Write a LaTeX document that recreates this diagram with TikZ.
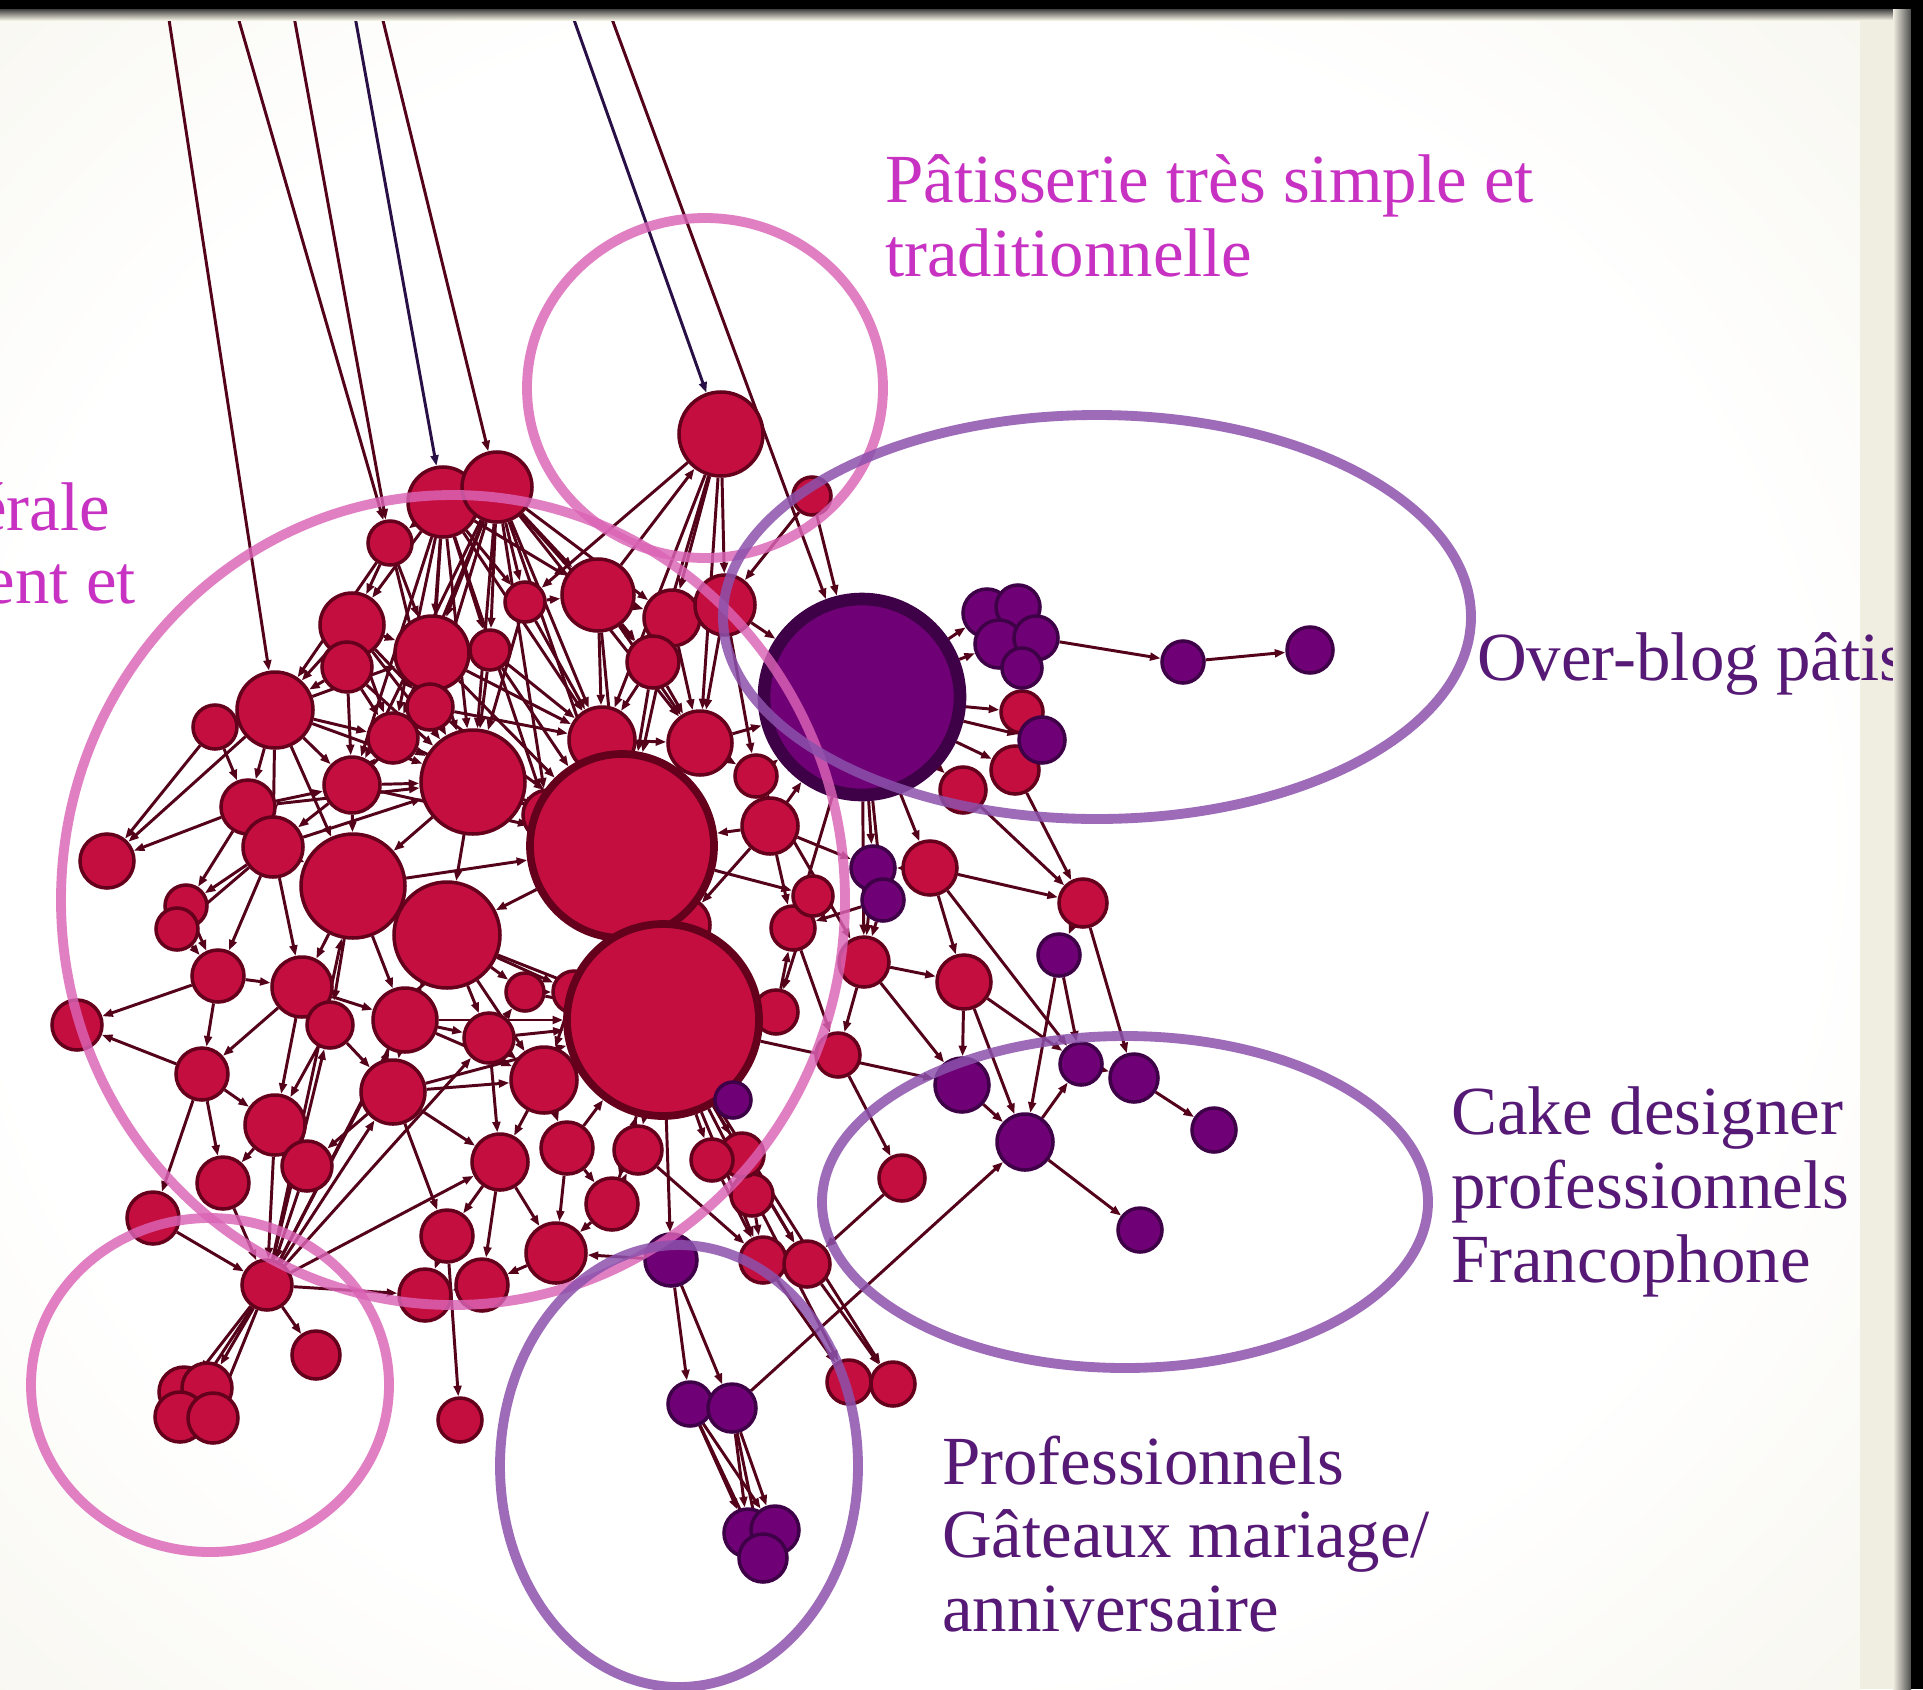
\documentclass[tikz,border=0pt]{standalone}
\usepackage{fontspec}
\setmainfont{Liberation Serif}
\usetikzlibrary{arrows.meta,backgrounds}
\definecolor{cream}{RGB}{240,238,224}
\definecolor{rfill}{RGB}{196,14,64}
\definecolor{rline}{RGB}{100,0,28}
\definecolor{pfill}{RGB}{112,0,118}
\definecolor{pline}{RGB}{62,0,70}
\definecolor{edgec}{RGB}{84,2,26}
\definecolor{navy}{RGB}{40,15,70}
\definecolor{pinkringc}{RGB}{219,100,182}
\definecolor{purpringc}{RGB}{140,82,172}
\definecolor{pinktext}{RGB}{200,50,195}
\definecolor{purptext}{RGB}{86,26,118}
\pgfdeclareradialshading{bgshade}{\pgfpoint{0bp}{0bp}}{color(0bp)=(white); color(24bp)=(white); color(46bp)=(cream); color(100bp)=(cream)}
\tikzset{
  rnode/.style={circle, draw=rline, fill=rfill, line width=5pt, inner sep=0pt},
  pnode/.style={circle, draw=pline, fill=pfill, line width=5pt, inner sep=0pt},
  bignode/.style={circle, draw=rline, fill=rfill, line width=11pt, inner sep=0pt},
  bigpnode/.style={circle, draw=pline, fill=pfill, line width=18pt, inner sep=0pt},
  edge/.style={draw=edgec, line width=4.2pt, -{Triangle[length=15pt,width=11pt]}},
  nedge/.style={edge, draw=navy},
  pinkring/.style={draw=pinkringc, line width=14pt, opacity=0.82},
  purpring/.style={draw=purpringc, line width=14pt, opacity=0.85},
  lab/.style={anchor=base west, inner sep=0pt, font=\fontsize{98}{105}\selectfont},
}
\newcommand{\RN}[4]{\node[rnode, minimum size=#4*0.1cm] (#1) at (#2,#3) {};}
\newcommand{\PN}[4]{\node[pnode, minimum size=#4*0.1cm] (#1) at (#2,#3) {};}
\begin{document}
\begin{tikzpicture}[x=0.05cm, y=-0.05cm]
\useasboundingbox (0,0) rectangle (1923,1689);
\clip (0,0) rectangle (1923,1689);
% ---------- nodes ----------
\RN{n1}{721}{434}{42}
\RN{n2}{812}{496}{19}
\RN{n3}{443}{502}{35}
\RN{n4}{497}{487}{35}
\RN{n5}{390}{543}{22}
\RN{n6}{352}{625}{32}
\RN{n7}{347}{667}{25}
\RN{n8}{432}{653}{37}
\RN{n9}{490}{650}{20}
\RN{n10}{525}{602}{20}
\RN{n11}{598}{595}{36}
\RN{n12}{672}{618}{28}
\RN{n13}{653}{662}{26}
\RN{n14}{725}{605}{30}
\RN{n16}{275}{710}{38}
\RN{n17}{215}{727}{22}
\RN{n18}{248}{807}{27}
\RN{n19}{352}{785}{28}
\RN{n20}{393}{738}{25}
\RN{n21}{430}{707}{23}
\RN{n22}{473}{782}{52}
\RN{n23}{548}{815}{25}
\RN{n24}{602}{740}{33}
\RN{n25}{700}{743}{32}
\RN{n26}{756}{776}{21}
\RN{n27}{770}{826}{28}
\RN{n28}{273}{847}{30}
\RN{n29}{353}{886}{52}
\RN{n30}{447}{935}{53}
\RN{n31}{107}{861}{27}
\RN{n32}{186}{906}{21}
\RN{n33}{177}{929}{21}
\RN{n34}{218}{976}{26}
\RN{n35}{302}{987}{30}
\RN{n36}{330}{1025}{23}
\RN{n37}{405}{1020}{32}
\RN{n38}{202}{1074}{26}
\RN{n39}{393}{1092}{32}
\RN{n40}{275}{1125}{30}
\RN{n41}{307}{1166}{25}
\RN{n42}{223}{1183}{26}
\RN{n43}{153}{1218}{26}
\RN{n44}{489}{1038}{25}
\RN{n45}{525}{992}{19}
\RN{n46}{574}{992}{21}
\RN{n47}{544}{1080}{33}
\RN{n48}{500}{1162}{28}
\RN{n49}{567}{1148}{26}
\RN{n50}{612}{1204}{26}
\RN{n51}{556}{1253}{30}
\RN{n52}{447}{1236}{26}
\RN{n53}{425}{1295}{26}
\RN{n54}{482}{1285}{26}
\RN{n55}{267}{1285}{25}
\RN{n56}{77}{1025}{25}
\RN{n60}{1022}{712}{21}
\RN{n61}{1015}{770}{24}
\RN{n62}{963}{790}{23}
\RN{n63}{930}{868}{27}
\RN{n64}{1083}{903}{24}
\RN{n65}{864}{962}{25}
\RN{n66}{793}{928}{22}
\RN{n67}{964}{982}{27}
\RN{n68}{838}{1055}{22}
\RN{n69}{902}{1178}{23}
\RN{n70}{763}{1260}{23}
\RN{n71}{807}{1264}{23}
\RN{n72}{849}{1382}{22}
\RN{n73}{893}{1384}{22}
\RN{n74}{752}{1195}{21}
\RN{n75}{742}{1155}{22}
\RN{n76}{316}{1355}{24}
\RN{n77}{184}{1392}{25}
\RN{n78}{207}{1388}{25}
\RN{n79}{180}{1417}{25}
\RN{n80}{213}{1418}{25}
\RN{n81}{460}{1420}{22}
\RN{n82}{776}{1012}{22}
\RN{n83}{813}{896}{20}
\RN{n84}{682}{925}{28}
\RN{n85}{638}{1150}{24}
\RN{n86}{712}{1160}{21}
\node[bignode, minimum size=92*0.1cm] (b1) at (622,846) {};
\node[bignode, minimum size=96*0.1cm] (b2) at (663,1020) {};
\node[bigpnode, minimum size=98*0.1cm] (P0) at (862,697) {};
\PN{q1}{987}{613}{24}
\PN{q2}{1018}{607}{22}
\PN{q3}{999}{644}{24}
\PN{q4}{1036}{638}{22}
\PN{q5}{1022}{668}{20}
\PN{q6}{1183}{662}{21}
\PN{q7}{1310}{650}{23}
\PN{q8}{1042}{740}{23}
\PN{q9}{873}{868}{22}
\PN{q10}{883}{900}{21}
\PN{q11}{1059}{955}{21}
\PN{q12}{962}{1085}{27}
\PN{q13}{1025}{1142}{28}
\PN{q14}{1081}{1064}{21}
\PN{q15}{1134}{1078}{24}
\PN{q16}{1214}{1130}{22}
\PN{q17}{1140}{1230}{22}
\PN{q18}{671}{1260}{26}
\PN{q19}{690}{1404}{22}
\PN{q20}{732}{1408}{24}
\PN{q21}{748}{1533}{24}
\PN{q22}{775}{1530}{24}
\PN{q23}{763}{1558}{24}
\PN{q24}{733}{1100}{18}
\coordinate (t1) at (166,0);
\coordinate (t2) at (233,0);
\coordinate (t3) at (291,0);
\coordinate (t4) at (352,0);
\coordinate (t5) at (378,0);
\coordinate (t6) at (567,0);
\coordinate (t7) at (605,0);
% ---------- background and edges ----------
\begin{scope}[on background layer]
\fill[cream] (0,0) rectangle (1923,1689);
\shade[shading=bgshade] (-60,-40) rectangle (1860,1720);
\foreach \a/\b in {t1/n16,t2/n5,t3/n5,t5/n4,t7/P0,
 n11/n1,n1/n12,n1/n14,n1/n13,n1/n24,n1/n25,n1/n10,n2/P0,n2/n14,
 n3/n5,n3/n6,n3/n8,n3/n9,n3/n10,n3/n11,n3/n21,n3/n22,
 n3/n24,n3/n19,n3/n20,n3/n23,n3/n4,
 n4/n8,n4/n9,n4/n10,n4/n11,n4/n12,n4/n13,n4/n24,n4/n22,n4/b1,n4/n20,
 n4/n21,n4/n25,n4/n23,n4/n19,
 n5/n6,n5/n8,n5/n16,n5/n21,
 n6/n16,n6/n8,n6/n7,n6/n20,n6/n21,n6/n22,
 n7/n16,n7/n19,n7/n20,n7/n22,
 n8/n22,n8/n21,n8/n20,n8/n9,n8/b1,n8/n24,
 n9/n22,n9/n24,n9/b1,
 n10/n11,n10/n24,n10/n22,
 n11/n24,n11/b1,n11/n12,n11/n13,n11/n25,
 n12/n14,n12/n25,n12/b1,
 n13/n25,n13/b1,n13/n24,
 n14/n25,n14/P0,n14/n26,
 n16/n17,n16/n18,n16/n19,n16/n20,n16/n28,n16/n29,n16/n31,n16/n8,n16/n22,
 n17/n31,n17/n18,
 n18/n28,n18/n19,n18/n32,n18/n31,n18/n22,
 n19/n22,n19/n29,n19/n28,n19/n20,n19/n21,n19/b1,
 n20/n22,n20/n21,n20/b1,n21/n22,n21/n24,n21/b1,
 n22/b1,n22/n23,n22/n30,n22/n29,
 n23/b1,n23/n24,n23/b2,n24/b1,n24/n25,
 n25/n26,n25/b1,n25/P0,n26/n27,n26/P0,
 n27/b1,n27/P0,n27/q9,n27/n66,
 b1/b2,b1/n30,b1/n84,b1/n83,
 n28/n29,n28/n32,n28/n33,n28/n34,n28/n35,n28/n22,
 n29/n30,n29/n35,n29/n37,n29/n36,n29/b1,
 n30/n37,n30/n44,n30/n45,n30/b2,n30/n47,n30/n46,
 n32/n34,n33/n34,n34/n56,n38/n56,
 n34/n35,n34/n38,
 n35/n36,n35/n37,n35/n40,n35/n38,
 n36/n39,n36/n40,
 n37/n39,n37/n44,n37/n47,n37/b2,
 n38/n40,n38/n42,n38/n43,
 n39/n47,n39/n48,n39/n41,n39/n52,n39/b2,
 n40/n41,n40/n42,n40/n55,
 n41/n55,n42/n55,n43/n55,
 n44/n47,n44/n48,n44/n45,n44/b2,
 n45/n46,n45/b2,n46/b2,n46/n47,
 n47/b2,n47/n49,n47/n48,
 n48/n52,n48/n54,n48/n51,
 n49/n50,n49/n51,n49/b2,
 n50/b2,n50/n51,n50/n85,
 n51/n54,n52/n53,n52/n81,n54/n53,
 n55/n77,n55/n78,n55/n79,n55/n80,n55/n76,n55/n53,
 n55/n36,n55/n29,n55/n37,n55/n39,n55/n30,n55/n44,n55/n48,
 b2/n84,b2/n82,b2/n85,b2/q24,b2/n86,b2/n75,b2/q18,b2/n50,b2/q12,
 q18/q19,q18/q20,q18/n51,
 q19/q21,q19/q22,q19/q23,q20/q21,q20/q22,q20/q23,q20/q13,
 b2/n70,b2/n71,n85/n70,b2/n72,b2/n73,n70/n72,n71/n73,
 n74/n70,n75/n71,n86/n70,
 P0/q1,P0/q3,P0/n60,P0/q8,P0/n61,P0/n62,P0/q9,P0/q10,P0/n63,P0/n65,P0/n66,
 q1/q2,q3/q4,q5/q3,q4/q6,q6/q7,
 n60/q8,q8/n61,
 n62/n64,n61/n64,n63/q9,n63/n64,n63/n67,n63/q14,
 n64/q11,n64/q15,q11/q13,q11/q14,
 q9/n65,q10/n65,q10/n66,
 n65/n67,n65/q12,n65/n68,
 n66/n83,n66/n68,
 n67/q12,n67/q13,n67/q14,
 q12/q13,q13/q14,q13/q17,q14/q15,q15/q16,
 n68/n69,n69/n71,
 n26/n65,n82/n66,n84/n82,n83/n82,n27/n84}
 \draw[edge] (\a) -- (\b);
\draw[nedge] (t4) -- (n3);
\draw[nedge] (t6) -- (n1);
\end{scope}
% ---------- group outlines ----------
\draw[pinkring] (453,900) ellipse [x radius=392*0.05cm, y radius=405*0.05cm];
\draw[pinkring] (705,388) ellipse [x radius=178*0.05cm, y radius=170*0.05cm];
\draw[pinkring] (210,1385) ellipse [x radius=179*0.05cm, y radius=167*0.05cm];
\draw[purpring] (1097,617) ellipse [x radius=374*0.05cm, y radius=202*0.05cm];
\draw[purpring] (1125,1202) ellipse [x radius=303*0.05cm, y radius=166*0.05cm];
\draw[purpring] (679,1466) ellipse [x radius=179*0.05cm, y radius=221*0.05cm];
% ---------- labels ----------
\node[lab, text=pinktext] (l1a) at (885,202) {Pâtisserie très simple et};
\node[lab, text=pinktext] (l1b) at (885,276) {traditionnelle};
\node[lab, text=pinktext, anchor=base east] (l0a) at (110,530) {érale};
\node[lab, text=pinktext, anchor=base east] (l0b) at (136,603) {ent et};
\node[lab, text=purptext] (l2) at (1477,680) {Over-blog pâtiss};
\node[lab, text=purptext] (l3a) at (1451,1134) {Cake designer};
\node[lab, text=purptext] (l3b) at (1451,1208) {professionnels};
\node[lab, text=purptext] (l3c) at (1451,1282) {Francophone};
\node[lab, text=purptext] (l4a) at (942,1484) {Professionnels};
\node[lab, text=purptext] (l4b) at (942,1557) {Gâteaux mariage/};
\node[lab, text=purptext] (l4c) at (942,1631) {anniversaire};
% ---------- slide frame ----------
\fill[black] (0,0) rectangle (1923,9);
\shade[top color=black!75, bottom color=cream] (0,9) rectangle (1923,20);
\shade[left color=cream, right color=black!70] (1893,9) rectangle (1911,1689);
\fill[black] (1911,0) rectangle (1923,1689);
\end{tikzpicture}
\end{document}
